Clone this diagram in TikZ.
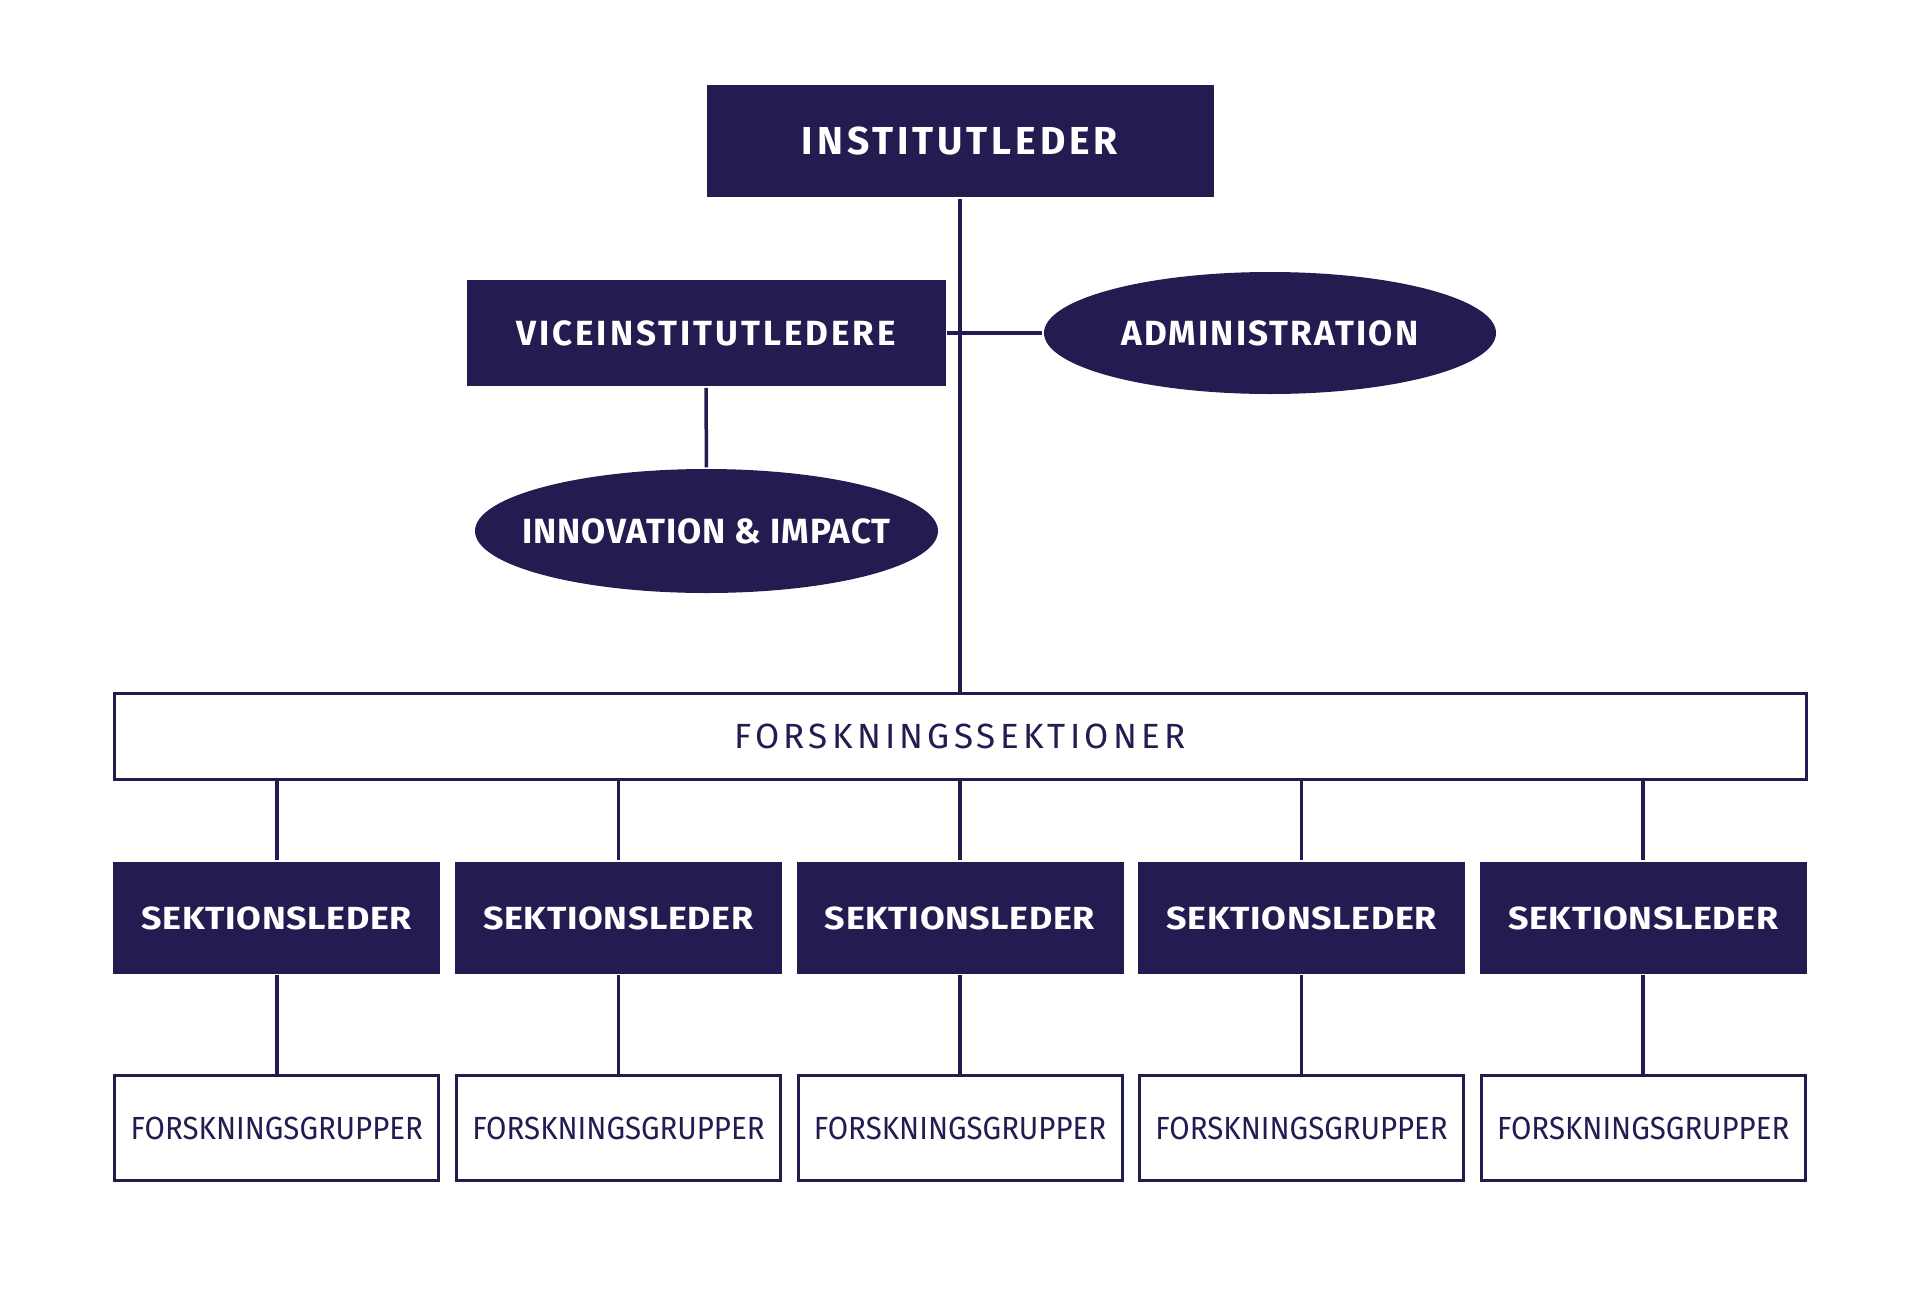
\documentclass[tikz,border=0pt]{standalone}
\usepackage{fontspec}
\setmainfont{Fira Sans}
\newfontfamily\headfont[LetterSpace=10]{Fira Sans}
\newfontfamily\vicefont[LetterSpace=8.5]{Fira Sans}
\newfontfamily\unitfont[LetterSpace=6]{Fira Sans}
\newfontfamily\narrowfont[LetterSpace=2.5]{Fira Sans}
\newfontfamily\sectionfont[LetterSpace=12]{Fira Sans}
\newfontfamily\leadfont[FakeStretch=1.12, LetterSpace=2]{Fira Sans}
\newfontfamily\groupfont[FakeStretch=0.92]{Fira Sans}
\usetikzlibrary{positioning, shapes.geometric}
\definecolor{navy}{HTML}{221C51}

\begin{document}
\begin{tikzpicture}[x=1pt, y=-1pt, line width=3.5pt, node distance=99pt,
		topbox/.style={rectangle, fill=navy, text=white, inner sep=0pt, text depth=0pt, font=\headfont\bfseries\fontsize{39}{44}\selectfont},
		midbox/.style={rectangle, fill=navy, text=white, inner sep=0pt, text depth=0pt, font=\vicefont\bfseries\fontsize{35}{40}\selectfont},
		unit/.style={ellipse, fill=navy, text=white, inner sep=0pt, text depth=0pt, font=\unitfont\bfseries\fontsize{35}{40}\selectfont},
		leadbox/.style={rectangle, fill=navy, text=white, inner sep=0pt, text depth=0pt, minimum width=327pt, minimum height=111.5pt, font=\leadfont\bfseries\fontsize{32}{36}\selectfont},
		groupbox/.style={rectangle, draw=navy, text=navy, line width=3pt, inner sep=0pt, text depth=0pt, minimum width=324pt, minimum height=104.5pt, font=\groupfont\fontsize{32}{36}\selectfont}]
		\useasboundingbox (0,0) rectangle (1920,1293);
		\fill[white] (0,0) rectangle (1920,1293);
	
		\node [topbox, minimum width=507pt, minimum height=112.5pt] (institutleder) at (960,140.75) {INSTITUTLEDER};
		\node [midbox, minimum width=479pt, minimum height=106pt] (vice) at (706,333) {VICEINSTITUTLEDERE};
		\node [unit, minimum width=452pt, minimum height=122pt] (admin) at (1270,333) {ADMINISTRATION};
		\node [unit, font=\narrowfont\bfseries\fontsize{35}{40}\selectfont, inner xsep=-30pt, minimum width=463pt, minimum height=124pt] (innovation) at (706.5,531) {INNOVATION \& IMPACT};
		\node [rectangle, draw=navy, text=navy, line width=3pt, inner sep=0pt, text depth=0pt, minimum width=1692pt, minimum height=86pt, font=\sectionfont\fontsize{35}{40}\selectfont] (sektioner) at (960,736.5) {FORSKNINGSSEKTIONER};
	
		\draw[navy] (institutleder) -- (sektioner);
		\draw[navy] (vice) -- (admin);
		\draw[navy] (vice) -- (innovation);
	
		\foreach \i in {1,...,5} {
			\node [leadbox] (lead\i) at ({960+(\i-3)*341.6}, 917.75) {SEKTIONSLEDER};
			\node [groupbox, below=of lead\i] (group\i) {FORSKNINGSGRUPPER};
			\draw[navy] (lead\i.north |- sektioner.south) -- (lead\i);
			\draw[navy] (lead\i) -- (group\i);
		}
	\end{tikzpicture}
\end{document}
